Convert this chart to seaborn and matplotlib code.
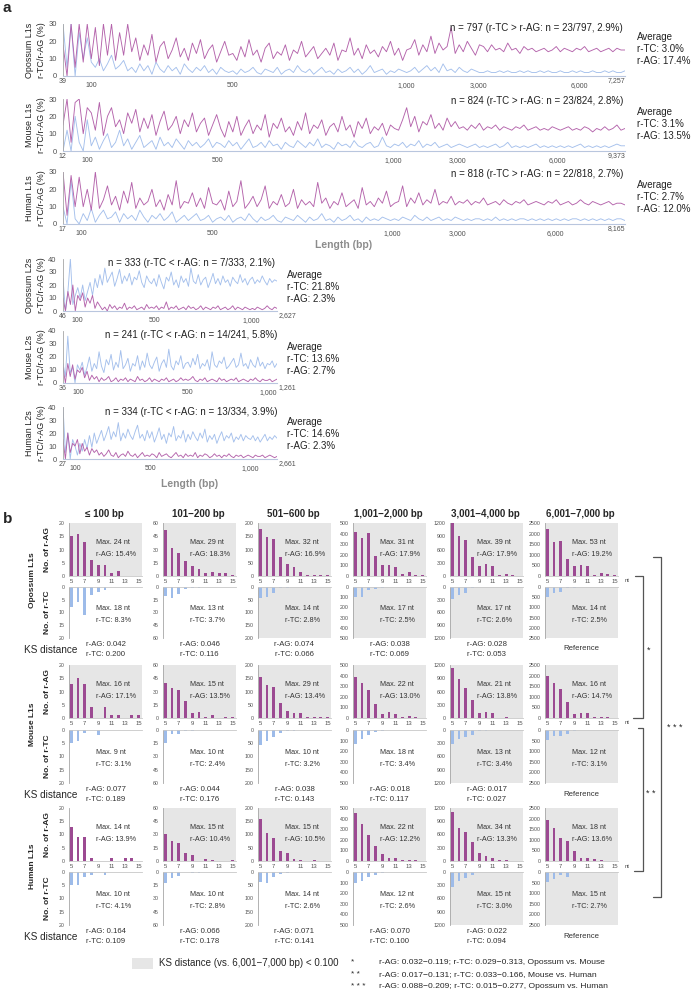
import numpy as np
import matplotlib
matplotlib.use("Agg")
import matplotlib.pyplot as plt
import seaborn as sns
from matplotlib.patches import Rectangle
from matplotlib.lines import Line2D

sns.set_theme(style="white")
plt.rcParams["font.family"] = ["Liberation Sans", "DejaVu Sans"]

# ---------------- PANEL A DATA ----------------

species = ["Opossum", "Mouse", "Human"]

l1_n = [797, 824, 818]
l1_start = ["39", "12", "17"]
l1_end = ["7,257", "9,373", "8,165"]
l1_tick_labels = ["100", "500", "1,000", "3,000", "6,000"]
l1_tick_pos = [[40, 240, 486, 588, 732], [35, 226, 484, 578, 724], [26, 217, 479, 574, 716]]
l1_counts = ["n = 797 (r-TC > r-AG: n = 23/797, 2.9%)",
             "n = 824 (r-TC > r-AG: n = 23/824, 2.8%)",
             "n = 818 (r-TC > r-AG: n = 22/818, 2.7%)"]
l1_avg_tc = [3.0, 3.1, 2.7]
l1_avg_ag = [17.4, 13.5, 12.0]

l2_n = [333, 241, 334]
l2_start = ["46", "36", "27"]
l2_end = ["2,627", "1,261", "2,661"]
l2_tick_labels = ["100", "500", "1,000"]
l2_tick_pos = [[22, 142, 292], [17, 140, 230], [19, 136, 292]]
l2_counts = ["n = 333 (r-TC < r-AG: n = 7/333, 2.1%)",
             "n = 241 (r-TC < r-AG: n = 14/241, 5.8%)",
             "n = 334 (r-TC < r-AG: n = 13/334, 3.9%)"]
l2_avg_tc = [21.8, 13.6, 14.6]
l2_avg_ag = [2.3, 2.7, 2.3]

# r-AG / r-TC (%) along L1s sorted by length
opo_l1_ag = [18, 0, 30, 5, 30, 8, 30, 10, 28, 6, 30, 12, 30, 9, 25, 12, 30,
             14, 22, 9, 18, 12, 24, 8, 17, 20, 10, 15, 22, 11, 16, 9, 19, 13, 21, 10, 15, 18, 8, 14, 20, 12,
             13, 9, 17, 11, 21, 12, 15, 8, 16, 19, 10, 14, 12, 18, 9, 15, 13, 20, 11, 14, 17, 10, 13, 16, 12, 19,
             9, 15, 14, 22, 12, 16, 10, 18, 13, 15, 11, 17, 14, 20, 12, 16, 9, 15,
             16, 21, 12, 18, 14, 23, 13, 19, 15, 17, 28, 13, 18, 14, 20, 16, 12, 18,
             17, 14, 18, 15, 16, 14, 19, 15, 16, 13, 17, 15, 16, 14, 15, 16, 14, 15, 17, 14, 16, 15, 14, 16, 15,
             17, 14, 15, 16, 14, 15, 16, 14, 16, 15, 15]
opo_l1_tc = [30, 5, 30, 0, 25, 10, 22, 8, 5, 10, 3, 7, 12, 4, 6, 9, 3,
             5, 2, 7, 3, 6, 1, 8, 4, 2, 6, 3, 5, 1, 7, 4, 2, 5, 3, 6, 2, 4, 1, 5, 3, 2,
             3, 1, 4, 2, 3, 5, 2, 1, 4, 3, 2, 5, 1, 3, 4, 2, 6, 3, 2, 4, 1, 3, 5, 2, 3, 1,
             4, 2, 3, 5, 2, 4, 1, 3, 6, 2, 3, 4, 1, 3, 2, 4, 3, 2,
             3, 5, 2, 4, 6, 3, 5, 2, 7, 3, 4, 2, 5, 3, 2, 4, 3, 2,
             2, 3, 2, 2, 3, 2, 3, 2, 2, 3, 2, 3, 2, 2, 3, 2, 3, 2, 2, 3, 2, 2, 3, 2, 3,
             2, 2, 3, 2, 2, 3, 2, 3, 2, 2, 3]
mou_l1_ag = [15, 30, 5, 28, 30, 10, 25,
             22, 12, 28, 9, 20, 25, 14, 18, 10, 22, 16, 24, 11, 19, 13, 21, 9, 17, 23, 12, 15, 20, 10, 18, 14,
             22, 11, 16, 19, 9, 15, 21,
             13, 8, 17, 11, 20, 9, 14, 18, 10, 15, 12, 21, 8, 16, 13, 19, 11, 14, 9, 17, 12, 22, 10, 15, 13,
             18, 9, 14, 16, 11, 20, 12, 15, 8, 17, 13, 19, 10, 14, 12, 16, 9, 15, 13,
             12, 18, 25, 14, 20, 11, 17, 15, 21, 13, 16, 12, 19, 14, 17, 13,
             14, 12, 15, 13, 16, 12, 14, 13, 15, 12, 14, 13, 12, 14, 13, 15, 12, 13, 14, 12, 13, 12, 14, 13,
             12, 13, 14, 12, 13, 12, 14, 13, 11, 13, 12, 14, 12, 13, 15, 12, 13]
mou_l1_tc = [0, 12, 0, 20, 5, 0, 18,
             3, 8, 1, 6, 10, 2, 5, 12, 3, 7, 1, 5, 9, 2, 4, 6, 1, 8, 3, 5, 2, 7, 4, 1, 6, 3, 5, 2, 4, 7, 2, 5,
             4, 2, 6, 3, 5, 1, 4, 7, 2, 3, 5, 2, 6, 3, 4, 1, 5, 3, 2, 6, 4, 2, 5, 3, 7, 2, 4, 3, 1, 5, 3, 4,
             2, 6, 3, 2, 4, 5, 2, 3, 8, 3, 2, 4,
             3, 5, 2, 4, 3, 6, 2, 4, 3, 5, 2, 3, 4, 2, 3, 4,
             3, 2, 3, 4, 2, 3, 2, 3, 4, 2, 3, 5, 2, 3, 2, 3, 2, 3, 4, 2, 3, 2, 3, 2, 3, 2, 3, 2, 3, 4, 2, 3,
             2, 3, 2, 3, 2, 3, 4, 3, 3]
hum_l1_ag = [30, 5, 28, 10, 27,
             10, 20, 8, 30, 9, 14, 22, 11, 16, 8, 19, 12, 24, 9, 15, 11, 13, 20, 10, 14, 8, 17, 11, 25, 9, 13,
             12, 18, 10, 15, 9, 21, 12,
             11, 14, 8, 19, 10, 13, 25, 9, 12, 16, 10, 14, 22, 9, 13, 11, 17, 10, 12, 20, 9, 14, 11, 13, 10,
             24, 12, 15, 9, 13, 11, 18, 10, 12, 14, 9, 21, 11, 13, 10, 15, 12, 19, 10, 12,
             13, 22, 10, 15, 12, 18, 11, 14, 12, 20, 11, 13, 12, 16, 11, 13,
             12, 14, 11, 13, 12, 15, 11, 12, 13, 11, 14, 12, 11, 13, 12, 14, 11, 12, 13, 12, 11, 13, 12, 14,
             11, 12, 13, 11, 12, 14, 12, 11, 13, 12, 11, 12, 13, 11, 12, 12, 11]
hum_l1_tc = [10, 0, 25, 3, 0,
             6, 2, 9, 1, 5, 8, 3, 4, 7, 1, 6, 3, 5, 2, 8, 4, 1, 5, 3, 6, 2, 4, 7, 1, 3, 5, 2, 4, 6, 2, 3, 5, 1,
             3, 4, 2, 5, 1, 3, 4, 2, 6, 3, 1, 4, 2, 3, 5, 2, 1, 4, 3, 2, 5, 3, 1, 4, 2, 3, 6, 2, 3, 1, 4, 2,
             3, 5, 2, 3, 1, 4, 2, 3, 2, 4, 3, 2, 3,
             2, 4, 3, 2, 5, 3, 2, 4, 2, 3, 4, 2, 3, 2, 4, 3,
             2, 3, 2, 3, 3, 2, 3, 2, 4, 2, 3, 2, 3, 2, 3, 3, 2, 3, 2, 3, 2, 3, 2, 3, 2, 3, 2, 3, 3, 2, 3, 2,
             3, 2, 3, 2, 3, 2, 3, 3, 2]

# r-TC / r-AG (%) along L2s sorted by length
opo_l2_tc = [25, 0, 15, 40, 5, 12, 18, 10, 20, 8, 15, 22, 12, 25, 18,
             28, 20, 33, 22, 26, 30, 19, 25, 32, 21, 27, 23, 29, 20, 26, 24, 31, 22, 18, 27, 23, 21,
             25, 19, 28, 22, 17, 26, 23, 30, 20, 24, 18, 27, 22, 25, 19, 33, 23, 21, 28, 20, 24, 26, 18, 23,
             29, 21, 25, 20, 27, 22, 24, 19, 26, 23, 21, 28, 22, 25, 20, 24,
             26, 21, 24, 22, 27, 23, 20, 25, 22, 24, 23]
opo_l2_ag = [10, 0, 15, 5, 20, 0, 12, 8, 14, 3, 10, 6, 12, 2, 7,
             4, 1, 3, 0, 5, 2, 4, 1, 3, 2, 6, 1, 3, 2, 4, 1, 2, 3, 1, 5, 2, 3,
             2, 4, 1, 3, 2, 7, 1, 3, 2, 4, 1, 2, 3, 1, 4, 2, 3, 1, 2, 4, 1, 3, 2, 1, 3, 2, 4, 1, 2, 3, 1, 2,
             4, 1, 3, 2, 1, 3, 2, 1,
             2, 1, 3, 2, 1, 2, 4, 2, 1, 3, 2]
mou_l2_tc = [15, 5, 36, 8, 12, 0, 14,
             10, 16, 6, 12, 20, 9, 15, 11, 24, 13, 8, 18, 14, 22, 10, 16, 12, 25, 11, 14, 19, 9, 15, 13, 21,
             10, 17, 12, 23, 14, 11, 16, 20, 9, 15, 18, 12, 26, 13, 10, 17, 14, 21, 11, 15,
             16, 12, 19, 14, 22, 11, 15, 13, 18, 10, 24, 14, 12, 17, 15, 20, 11, 13, 16, 19, 12, 14, 23, 13,
             15, 11, 18, 14, 12, 20, 13, 16, 11, 15, 14, 17, 12, 15]
mou_l2_ag = [12, 0, 15, 5, 14, 3, 10,
             8, 12, 4, 9, 2, 6, 3, 5, 1, 4, 2, 3, 5, 1, 2, 4, 1, 3, 2, 4, 1, 3, 2, 1, 5, 2, 3, 1, 2, 4, 1, 3,
             2, 1, 3, 2, 4, 1, 2, 3, 1, 2, 4, 2, 3,
             2, 3, 5, 2, 1, 3, 2, 4, 1, 2, 3, 2, 1, 4, 2, 3, 1, 2, 3, 2, 4, 1, 2, 3, 2, 1, 3, 2, 4, 2, 1, 3,
             2, 2, 3, 1, 2, 3]
hum_l2_tc = [40, 5, 20, 0, 15, 10, 3, 12, 6, 15, 8, 18, 9, 20, 12,
             17, 22, 14, 19, 25, 15, 21, 17, 28, 14, 20, 16, 23, 18, 15, 21, 26, 16, 19, 14, 22,
             16, 21, 13, 18, 24, 15, 19, 12, 20, 17, 25, 14, 18, 16, 22, 13, 19, 15, 21, 17, 14, 20, 16, 23,
             13, 18, 15, 19, 12, 17, 21, 14, 18, 16, 20, 13, 17, 15, 19, 14, 18, 16,
             15, 18, 14, 17, 13, 16, 19, 14, 17, 15, 18, 16]
hum_l2_ag = [15, 0, 20, 5, 12, 10, 15, 4, 12, 6, 9, 3, 8, 5, 7,
             3, 5, 2, 4, 7, 3, 2, 5, 1, 3, 4, 2, 6, 3, 2, 4, 1, 3, 5, 2, 3,
             2, 4, 3, 1, 5, 2, 3, 4, 2, 1, 3, 5, 2, 3, 1, 4, 2, 3, 2, 5, 1, 3, 2, 4, 3, 1, 2, 4, 2, 3, 1, 3,
             2, 4, 2, 1, 3, 2, 3, 1, 2, 3,
             2, 1, 3, 2, 2, 3, 1, 2, 3, 2, 1, 2]

l1_ag = [opo_l1_ag, mou_l1_ag, hum_l1_ag]
l1_tc = [opo_l1_tc, mou_l1_tc, hum_l1_tc]
l2_ag = [opo_l2_ag, mou_l2_ag, hum_l2_ag]
l2_tc = [opo_l2_tc, mou_l2_tc, hum_l2_tc]

# ---------------- PANEL B DATA ----------------

nt_len = [5, 6, 7, 8, 9, 10, 11, 12, 13, 14, 15]
bin_titles = ["\u2264 100 bp", "101\u2212200 bp", "501\u2212600 bp",
              "1,001\u22122,000 bp", "3,001\u22124,000 bp", "6,001\u22127,000 bp"]
col_ymax = [20, 60, 200, 500, 1200, 2500]
col_step = [5, 15, 50, 100, 300, 500]

opo_ag_counts = [[15, 16, 13, 6, 4, 4, 1, 2, 0, 0, 0],
                 [52, 32, 26, 17, 11, 8, 3, 5, 3, 3, 1],
                 [178, 147, 140, 70, 44, 34, 14, 5, 4, 3, 3],
                 [415, 358, 405, 189, 104, 100, 85, 20, 35, 10, 5],
                 [1200, 900, 815, 430, 226, 270, 225, 30, 40, 30, 10],
                 [2230, 1600, 1650, 800, 450, 520, 450, 60, 150, 100, 40]]
opo_tc_counts = [[8, 6, 11, 3, 2, 1, 0, 0, 0, 0, 0],
                 [11, 13, 8, 2, 1, 1, 0, 0, 0, 0, 0],
                 [45, 40, 25, 5, 2, 1, 0, 0, 0, 0, 0],
                 [100, 100, 30, 15, 5, 2, 1, 0, 0, 0, 0],
                 [290, 190, 140, 30, 10, 5, 2, 0, 0, 0, 0],
                 [490, 290, 245, 50, 30, 20, 5, 0, 0, 0, 0]]
mou_ag_counts = [[13, 15, 13, 4, 0, 4, 1, 1, 0, 1, 1],
                 [40, 34, 32, 19, 6, 7, 1, 3, 0, 1, 1],
                 [153, 124, 116, 58, 28, 20, 18, 2, 2, 2, 2],
                 [387, 330, 264, 132, 38, 57, 38, 5, 15, 5, 3],
                 [1130, 880, 670, 400, 115, 135, 115, 5, 30, 10, 5],
                 [1980, 1650, 1370, 755, 190, 240, 230, 30, 40, 30, 20]]
mou_tc_counts = [[5, 4, 1, 0, 2, 0, 0, 0, 0, 0, 0],
                 [15, 5, 5, 1, 1, 0, 0, 0, 0, 0, 0],
                 [58, 40, 25, 10, 3, 2, 0, 0, 0, 0, 0],
                 [132, 85, 47, 19, 5, 2, 0, 0, 0, 0, 0],
                 [317, 204, 160, 115, 30, 15, 5, 0, 0, 0, 0],
                 [470, 280, 280, 200, 40, 15, 5, 0, 0, 0, 0]]
hum_ag_counts = [[13, 9, 9, 1, 0, 0, 1, 0, 1, 1, 0],
                 [31, 23, 20, 9, 7, 0, 2, 1, 0, 0, 1],
                 [160, 105, 87, 37, 31, 8, 5, 0, 2, 0, 1],
                 [450, 350, 245, 140, 65, 30, 25, 5, 5, 5, 3],
                 [1110, 750, 660, 430, 180, 110, 70, 20, 15, 10, 5],
                 [1930, 1550, 1085, 940, 470, 140, 120, 80, 30, 20, 10]]
hum_tc_counts = [[5, 5, 2, 1, 0, 1, 0, 0, 0, 0, 0],
                 [13, 7, 5, 0, 1, 1, 0, 0, 0, 0, 0],
                 [38, 42, 20, 7, 3, 0, 0, 0, 0, 0, 0],
                 [104, 85, 47, 28, 10, 2, 0, 0, 0, 0, 0],
                 [340, 200, 135, 70, 10, 5, 0, 0, 0, 0, 0],
                 [470, 330, 140, 240, 20, 5, 0, 0, 0, 0, 0]]

opo_max_ag = [24, 29, 32, 31, 39, 53]
opo_pct_ag = [15.4, 18.3, 16.9, 17.9, 17.9, 19.2]
opo_max_tc = [18, 13, 14, 17, 17, 14]
opo_pct_tc = [8.3, 3.7, 2.8, 2.5, 2.6, 2.5]
mou_max_ag = [16, 15, 29, 22, 21, 16]
mou_pct_ag = [17.1, 13.5, 13.4, 13.0, 13.8, 14.7]
mou_max_tc = [9, 10, 10, 18, 13, 12]
mou_pct_tc = [3.1, 2.4, 3.2, 3.4, 3.4, 3.1]
hum_max_ag = [14, 15, 15, 22, 34, 18]
hum_pct_ag = [13.9, 10.4, 10.5, 12.2, 13.3, 13.6]
hum_max_tc = [10, 10, 14, 12, 15, 15]
hum_pct_tc = [4.1, 2.8, 2.6, 2.6, 3.0, 2.7]

opo_ks_ag = [0.042, 0.046, 0.074, 0.038, 0.028, None]
opo_ks_tc = [0.200, 0.116, 0.066, 0.069, 0.053, None]
mou_ks_ag = [0.077, 0.044, 0.038, 0.018, 0.017, None]
mou_ks_tc = [0.189, 0.176, 0.143, 0.117, 0.027, None]
hum_ks_ag = [0.164, 0.066, 0.071, 0.070, 0.022, None]
hum_ks_tc = [0.109, 0.178, 0.141, 0.100, 0.094, None]

footnotes = ["r-AG: 0.032\u22120.119; r-TC: 0.029\u22120.313, Opossum vs. Mouse",
             "r-AG: 0.017\u22120.131; r-TC: 0.033\u22120.166, Mouse vs. Human",
             "r-AG: 0.088\u22120.209; r-TC: 0.015\u22120.277, Opossum vs. Human"]

# ---------------- STYLE ----------------

AG_LINE = "#b463ab"
TC_LINE = "#a5c0ec"
AG_BAR = "#9c4a92"
TC_BAR = "#9dbbe9"
SHADE = "#e6e6e6"
SPINE = "#a6a6a6"
TICK_TXT = "#505050"

W, H = 692, 991
fig = plt.figure(figsize=(W / 100, H / 100), dpi=100)


def add_ax(x0, y0, x1, y1):
    return fig.add_axes([x0 / W, 1 - y1 / H, (x1 - x0) / W, (y1 - y0) / H])


def put(x, y, s, **kw):
    kw.setdefault("va", "center")
    fig.text(x / W, 1 - y / H, s, **kw)


def fig_line(xs, ys, **kw):
    fig.add_artist(Line2D([x / W for x in xs], [1 - y / H for y in ys],
                          transform=fig.transFigure, **kw))


# ---------------- PANEL A ----------------

def draw_lines(ax, n, tc, ag, ymax, ystep, ticks, tick_labels, start_lab, end_lab, end_right):
    xs_tc = np.linspace(0, n - 1, len(tc))
    xs_ag = np.linspace(0, n - 1, len(ag))
    sns.lineplot(x=xs_tc, y=tc, ax=ax, color=TC_LINE, linewidth=0.65, estimator=None, sort=False)
    sns.lineplot(x=xs_ag, y=ag, ax=ax, color=AG_LINE, linewidth=0.65, estimator=None, sort=False)
    ax.set_xlim(0, n - 1)
    ax.set_ylim(0, ymax)
    ax.set_yticks(range(0, ymax + 1, ystep))
    ax.set_xticks(ticks)
    ax.set_xticklabels(tick_labels)
    ax.tick_params(axis="x", length=2.5, width=0.9, color="#4a5670", pad=2,
                   labelsize=5, labelcolor=TICK_TXT)
    ax.tick_params(axis="y", length=0, pad=4.5, labelsize=5.5, labelcolor=TICK_TXT)
    ax.set_xlabel("")
    ax.set_ylabel("")
    for side in ["top", "right"]:
        ax.spines[side].set_visible(False)
    ax.spines["left"].set_color(SPINE)
    ax.spines["left"].set_linewidth(0.6)
    ax.spines["bottom"].set_color("#b9c6de")
    ax.spines["bottom"].set_linewidth(0.8)
    ax.annotate(start_lab, xy=(0, 0), xycoords="axes fraction", xytext=(-0.5, -3.8),
                textcoords="offset points", ha="center", va="center", fontsize=5, color=TICK_TXT)
    if end_right:
        ax.annotate(end_lab, xy=(1, 0), xycoords="axes fraction", xytext=(0, -3.6),
                    textcoords="offset points", ha="right", va="center", fontsize=5, color=TICK_TXT)
    else:
        ax.annotate(end_lab, xy=(1, 0), xycoords="axes fraction", xytext=(1, -3.6),
                    textcoords="offset points", ha="left", va="center", fontsize=5, color=TICK_TXT)


put(3, 8, "a", fontsize=11, fontweight="bold")

l1_rows = [(24, 76), (99, 151), (172, 224)]
l1_text_y = [28, 101, 174]
l1_avg_y = [49, 124, 197]
for i in range(3):
    y0, y1 = l1_rows[i]
    ax = add_ax(63, y0, 625, y1)
    draw_lines(ax, l1_n[i], l1_tc[i], l1_ag[i], 30, 10, l1_tick_pos[i], l1_tick_labels,
               l1_start[i], l1_end[i], True)
    put(35.5, (y0 + y1) / 2, f"{species[i]} L1s\nr-TC/r-AG (%)", rotation=90, ha="center",
        fontsize=6.4, linespacing=1.35, color="#222222")
    put(623, l1_text_y[i], l1_counts[i], ha="right", fontsize=7, color="#222222")
    put(637, l1_avg_y[i], f"Average\nr-TC: {l1_avg_tc[i]:.1f}%\nr-AG: {l1_avg_ag[i]:.1f}%",
        ha="left", fontsize=7, linespacing=1.25, color="#222222")

put(344, 245, "Length (bp)", ha="center", fontsize=7.5, fontweight="bold", color="#8c8c8c")

l2_rows = [(259, 311), (331, 383), (407, 459)]
l2_text_y = [263, 335, 412]
l2_avg_y = [287, 359, 434]
for i in range(3):
    y0, y1 = l2_rows[i]
    ax = add_ax(63, y0, 277, y1)
    draw_lines(ax, l2_n[i], l2_tc[i], l2_ag[i], 40, 10, l2_tick_pos[i], l2_tick_labels,
               l2_start[i], l2_end[i], False)
    put(35.5, (y0 + y1) / 2, f"{species[i]} L2s\nr-TC/r-AG (%)", rotation=90, ha="center",
        fontsize=6.4, linespacing=1.35, color="#222222")
    put(191, l2_text_y[i], l2_counts[i], ha="center", fontsize=7, color="#222222")
    put(287, l2_avg_y[i], f"Average\nr-TC: {l2_avg_tc[i]:.1f}%\nr-AG: {l2_avg_ag[i]:.1f}%",
        ha="left", fontsize=7, linespacing=1.25, color="#222222")

put(190, 484, "Length (bp)", ha="center", fontsize=7.5, fontweight="bold", color="#8c8c8c")

# ---------------- PANEL B ----------------

put(3, 519, "b", fontsize=11, fontweight="bold")

col_x = [69, 163, 258, 353, 450, 545]
col_w = 73
up_rows = [(523, 576), (665, 718), (808, 861)]
dn_rows = [(587, 638), (730, 783), (872, 925)]

ag_counts = [opo_ag_counts, mou_ag_counts, hum_ag_counts]
tc_counts = [opo_tc_counts, mou_tc_counts, hum_tc_counts]
max_ag = [opo_max_ag, mou_max_ag, hum_max_ag]
pct_ag = [opo_pct_ag, mou_pct_ag, hum_pct_ag]
max_tc = [opo_max_tc, mou_max_tc, hum_max_tc]
pct_tc = [opo_pct_tc, mou_pct_tc, hum_pct_tc]
ks_ag = [opo_ks_ag, mou_ks_ag, hum_ks_ag]
ks_tc = [opo_ks_tc, mou_ks_tc, hum_ks_tc]


def style_bar_ax(ax, shaded, lower):
    ax.set_facecolor(SHADE if shaded else "white")
    ax.set_xlabel("")
    ax.set_ylabel("")
    ax.set_xlim(-0.35, 10.5)
    for side in ["top", "right", "bottom", "left"]:
        ax.spines[side].set_visible(False)
    ax.spines["left"].set_visible(True)
    ax.spines["left"].set_color(SPINE)
    ax.spines["left"].set_linewidth(0.6)
    edge = "top" if lower else "bottom"
    ax.spines[edge].set_visible(True)
    ax.spines[edge].set_color("#c8c8c8")
    ax.spines[edge].set_linewidth(0.6)
    ax.tick_params(axis="y", length=1.5, width=0.5, color=SPINE, pad=1.5,
                   labelsize=3.8, labelcolor=TICK_TXT)


for c, title in enumerate(bin_titles):
    put(col_x[c] + col_w / 2 - 1, 514, title, ha="center", fontsize=7, fontweight="bold")

for r in range(3):
    for c in range(6):
        x0 = col_x[c]
        ymax = col_ymax[c]
        yt = list(range(0, ymax + 1, col_step[c]))
        ref = ks_ag[r][c] is None

        ax_up = add_ax(x0, up_rows[r][0], x0 + col_w, up_rows[r][1])
        sns.barplot(x=nt_len, y=ag_counts[r][c], ax=ax_up, color=AG_BAR, width=0.42,
                    saturation=1, errorbar=None, linewidth=0)
        style_bar_ax(ax_up, ref or ks_ag[r][c] < 0.1, False)
        ax_up.set_ylim(0, ymax)
        ax_up.set_yticks(yt)
        ax_up.set_xticks(range(0, 11, 2))
        ax_up.set_xticklabels([str(v) for v in nt_len[::2]])
        ax_up.tick_params(axis="x", length=1.5, width=0.5, color=SPINE, pad=0.5,
                          labelsize=4.2, labelcolor=TICK_TXT)
        ax_up.text(0.37, 0.64, f"Max. {max_ag[r][c]} nt", transform=ax_up.transAxes,
                   fontsize=5.2, color="#333333", va="center")
        ax_up.text(0.37, 0.40, f"r-AG: {pct_ag[r][c]:.1f}%", transform=ax_up.transAxes,
                   fontsize=5.2, color="#333333", va="center")

        ax_dn = add_ax(x0, dn_rows[r][0], x0 + col_w, dn_rows[r][1])
        sns.barplot(x=nt_len, y=tc_counts[r][c], ax=ax_dn, color=TC_BAR, width=0.42,
                    saturation=1, errorbar=None, linewidth=0)
        style_bar_ax(ax_dn, ref or ks_tc[r][c] < 0.1, True)
        ax_dn.set_ylim(ymax, 0)
        ax_dn.set_yticks(yt)
        ax_dn.set_xticks([])
        ax_dn.text(0.37, 0.57, f"Max. {max_tc[r][c]} nt", transform=ax_dn.transAxes,
                   fontsize=5.2, color="#333333", va="center")
        ax_dn.text(0.37, 0.35, f"r-TC: {pct_tc[r][c]:.1f}%", transform=ax_dn.transAxes,
                   fontsize=5.2, color="#333333", va="center")

        yb = dn_rows[r][1]
        xc = x0 + col_w / 2
        if ref:
            put(xc, yb + 11, "Reference", ha="center", fontsize=5.6, color="#333333")
            put(625, up_rows[r][1] + 5, "nt", ha="left", fontsize=4.2, color=TICK_TXT)
        else:
            put(xc, yb + 6.5, f"r-AG: {ks_ag[r][c]:.3f}", ha="center", fontsize=5.6, color="#333333")
            put(xc, yb + 16.5, f"r-TC: {ks_tc[r][c]:.3f}", ha="center", fontsize=5.6, color="#333333")

    yc_up = sum(up_rows[r]) / 2
    yc_dn = sum(dn_rows[r]) / 2
    put(33, (up_rows[r][0] + dn_rows[r][1]) / 2, f"{species[r]} L1s", rotation=90,
        ha="center", fontsize=6, fontweight="bold")
    put(48, yc_up, "No. of r-AG", rotation=90, ha="center", fontsize=6, fontweight="bold")
    put(48, yc_dn, "No. of r-TC", rotation=90, ha="center", fontsize=6, fontweight="bold")
    put(24, dn_rows[r][1] + 12, "KS distance", ha="left", fontsize=7.2)

# brackets for between-species comparisons
bk = dict(color="#555555", linewidth=0.9)
fig_line([635, 643, 643, 633], [576, 576, 718, 718], **bk)
fig_line([638, 643, 643, 634], [728, 728, 871, 871], **bk)
fig_line([653, 661, 661, 653], [557, 557, 897, 897], **bk)
put(647, 650, "*", ha="left", fontsize=6.5)
put(646, 794, "* *", ha="left", fontsize=6.5)
put(667, 727, "* * *", ha="left", fontsize=6.5)

# legend and footnotes
fig.add_artist(Rectangle((132 / W, 1 - 969 / H), 21 / W, 11 / H, transform=fig.transFigure,
                         facecolor=SHADE, edgecolor="none"))
put(159, 963.5, "KS distance (vs. 6,001\u22127,000 bp) < 0.100", ha="left", fontsize=7)
for k, txt in enumerate(footnotes):
    put(351, 962 + 12.3 * k, ["*", "* *", "* * *"][k], ha="left", fontsize=6)
    put(379, 962 + 12.3 * k, txt, ha="left", fontsize=6.1)

fig.savefig("out.png", dpi=100)
